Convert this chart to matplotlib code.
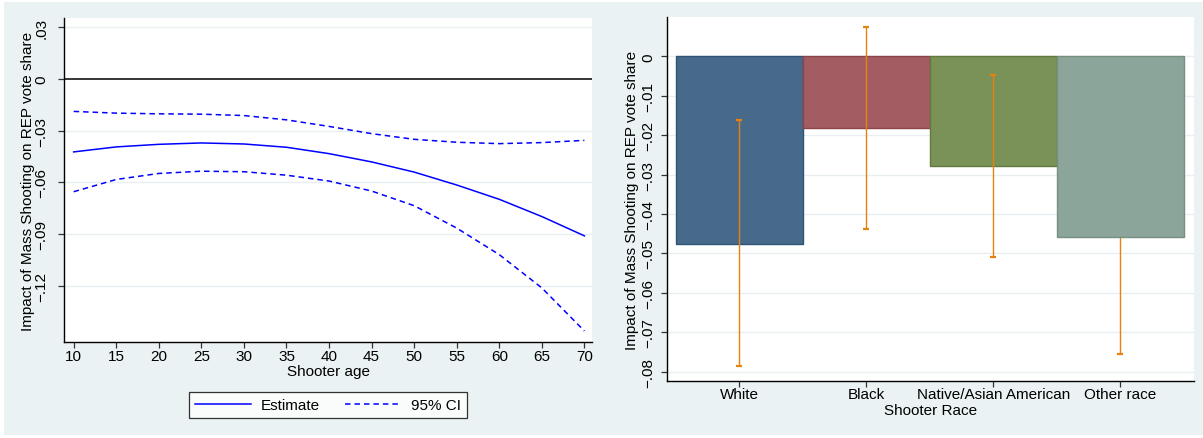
import matplotlib
matplotlib.use("Agg")
import matplotlib.pyplot as plt
from matplotlib.patches import Rectangle

plt.rcParams['font.family'] = ['Liberation Sans', 'DejaVu Sans']

# ---- Panel A: marginal effect by shooter age ----
ages = [10, 15, 20, 25, 30, 35, 40, 45, 50, 55, 60, 65, 70]
estimate = [-0.0423, -0.0394, -0.0379, -0.0371, -0.0377, -0.0396, -0.0433,
            -0.0481, -0.0540, -0.0615, -0.0698, -0.0798, -0.0910]
ci_upper = [-0.0188, -0.0198, -0.0202, -0.0204, -0.0212, -0.0237, -0.0275,
            -0.0317, -0.0350, -0.0367, -0.0375, -0.0369, -0.0356]
ci_lower = [-0.0654, -0.0583, -0.0548, -0.0535, -0.0538, -0.0558, -0.0592,
            -0.0650, -0.0735, -0.0865, -0.1019, -0.1212, -0.1462]
age_ticks = list(range(10, 71, 5))
age_yticks = [0.03, 0.0, -0.03, -0.06, -0.09, -0.12]
age_ylabels = ['.03', '0', '\u2212.03', '\u2212.06', '\u2212.09', '\u2212.12']

# ---- Panel B: effect by shooter race ----
races = ['White', 'Black', 'Native/Asian American', 'Other race']
race_effect = [-0.0475, -0.0183, -0.0279, -0.0459]
race_upper = [-0.0161, 0.0074, -0.0047, -0.0164]
race_lower = [-0.0786, -0.0438, -0.0510, -0.0754]
race_yticks = [0.0, -0.01, -0.02, -0.03, -0.04, -0.05, -0.06, -0.07, -0.08]
race_ylabels = ['0'] + ['\u2212.0%d' % i for i in range(1, 9)]

bar_fill = ['#476A8B', '#A35D62', '#7A9158', '#8BA59A']
bar_edge = ['#2E5477', '#8C434A', '#617A3F', '#76907F']
ci_color = '#E8820E'
grid_color = '#E9EEF0'
bg_color = '#EAF2F3'
fs = 11

W, H = 1203, 439
fig = plt.figure(figsize=(W / 100, H / 100), dpi=100, facecolor='white')
fig.patches.append(Rectangle((4 / W, 3 / H), 1 - 4 / W, 1 - 6 / H,
                             transform=fig.transFigure, facecolor=bg_color,
                             edgecolor='none', zorder=-10))


def px_axes(x0, y0, x1, y1):
    return fig.add_axes([x0 / W, 1 - y1 / H, (x1 - x0) / W, (y1 - y0) / H])


def style(ax, ypad):
    ax.set_facecolor('white')
    for s in ('top', 'right'):
        ax.spines[s].set_visible(False)
    for s in ('left', 'bottom'):
        ax.spines[s].set_color('black')
        ax.spines[s].set_linewidth(1.0)
    ax.tick_params(direction='out', length=4.3, width=0.9, color='#333333',
                   labelsize=fs)
    ax.tick_params(axis='x', pad=0.5)
    ax.tick_params(axis='y', labelrotation=90, pad=ypad)
    for lab in ax.get_yticklabels():
        lab.set_va('center')


# Left panel
ax1 = px_axes(64.3, 19, 591.7, 343)
ax1.set_xlim(8.9, 70.86)
ax1.set_ylim(-0.1526, 0.0354)
ax1.set_xticks(age_ticks)
ax1.set_yticks(age_yticks)
ax1.set_yticklabels(age_ylabels)
for v in age_yticks:
    if v != 0:
        ax1.axhline(v, color=grid_color, lw=1.0, zorder=1)
ax1.axhline(0, color='black', lw=1.1, zorder=2)
ax1.plot(ages, estimate, color='#0000FF', lw=1.1, zorder=3, label='Estimate')
ax1.plot(ages, ci_upper, color='#0000FF', lw=1.1, dashes=(3.6, 2.6), zorder=3,
         label='95% CI')
ax1.plot(ages, ci_lower, color='#0000FF', lw=1.1, dashes=(3.6, 2.6), zorder=3)
style(ax1, ypad=7)
ax1.set_xlabel('Shooter age', fontsize=fs)
ax1.xaxis.set_label_coords(0.5, -(365 - 343) / 324)
ax1.set_ylabel('Impact of Mass Shooting on REP vote share', fontsize=fs)
ax1.yaxis.set_label_coords((35 - 64.3) / 527.4, 0.5)
leg = ax1.legend(loc='center', bbox_to_anchor=(328 / W, 1 - 406 / H),
                 bbox_transform=fig.transFigure, ncol=2, fontsize=fs,
                 frameon=True, fancybox=False, handlelength=3.7,
                 columnspacing=1.6, handletextpad=0.65, borderpad=0.4,
                 borderaxespad=0)
leg.get_frame().set_edgecolor('black')
leg.get_frame().set_linewidth(0.9)

# Right panel
ax2 = px_axes(666.5, 18.3, 1193.7, 381.7)
pos = [1, 2, 3, 4]
ax2.set_xlim(0.427, 4.577)
ax2.set_ylim(-0.0823, 0.0099)
ax2.set_xticks(pos)
ax2.set_xticklabels(races)
ax2.set_yticks(race_yticks)
ax2.set_yticklabels(race_ylabels)
for v in race_yticks:
    ax2.axhline(v, color=grid_color, lw=1.0, zorder=1)
for i, p in enumerate(pos):
    z = 5 if races[i] == 'Other race' else 2
    ax2.bar(p, race_effect[i], width=1.0, color=bar_fill[i],
            edgecolor=bar_edge[i], linewidth=1.0, zorder=z)
for i, p in enumerate(pos):
    mid = (race_upper[i] + race_lower[i]) / 2
    ax2.errorbar(p, mid, yerr=[[mid - race_lower[i]], [race_upper[i] - mid]],
                 fmt='none', ecolor=ci_color, elinewidth=1.0, capsize=2.5,
                 capthick=1.6, zorder=4)
style(ax2, ypad=3.6)
ax2.set_xlabel('Shooter Race', fontsize=fs)
ax2.xaxis.set_label_coords(0.5, -(404 - 381.7) / 363.4)
ax2.set_ylabel('Impact of Mass Shooting on REP vote share', fontsize=fs)
ax2.yaxis.set_label_coords((639 - 666.5) / 527.2, 0.5)

fig.savefig('out.png', dpi=100, facecolor=fig.get_facecolor())
